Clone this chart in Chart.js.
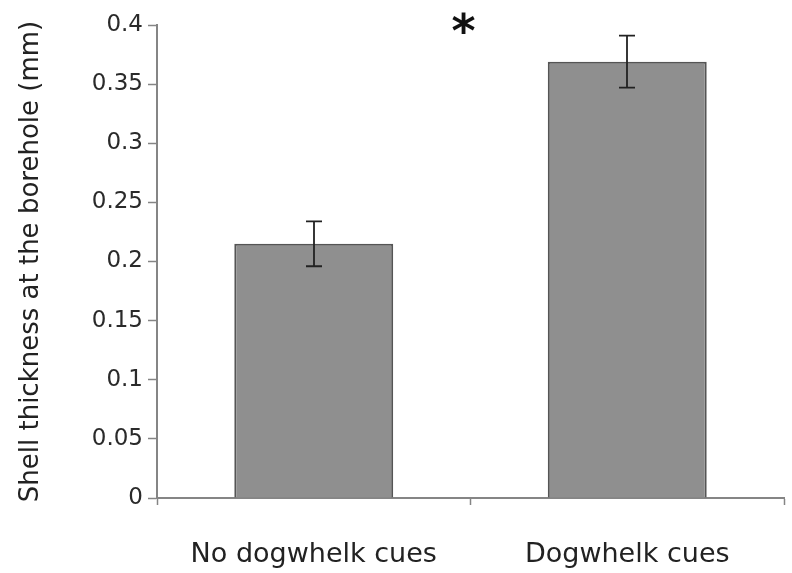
<!DOCTYPE html>
<html>
<head>
<meta charset="utf-8">
<script src="https://cdn.jsdelivr.net/npm/chart.js@4"></script>
<style>
  html, body { margin: 0; padding: 0; background: #fff; }
  #wrap { width: 792px; height: 573px; }
</style>
</head>
<body>
<div id="wrap"><canvas id="shellChart" width="792" height="573"></canvas></div>
<script>
// treatment groups and mean shell thickness (mm) with standard error
const groups = ["No dogwhelk cues", "Dogwhelk cues"];
const thickness = [0.215, 0.369];
const stdErr = [0.019, 0.022];
const yTicks = [0, 0.05, 0.1, 0.15, 0.2, 0.25, 0.3, 0.35, 0.4];
const sigMark = "*";

const FONT = "'DejaVu Sans', sans-serif";
const AXIS_GREY = "#858585";

// error bars + significance star drawn after the bars
const errorBarPlugin = {
    id: "errorBars",
    afterDatasetsDraw(chart) {
        const ctx = chart.ctx;
        const x = chart.scales.x;
        const y = chart.scales.y;
        const meta = chart.getDatasetMeta(0);

        ctx.save();
        ctx.strokeStyle = "#222";
        ctx.lineWidth = 1.8;

        meta.data.forEach((bar, i) => {
            const cx = Math.round(bar.x);
            const top = y.getPixelForValue(thickness[i] + stdErr[i]);
            const bottom = y.getPixelForValue(thickness[i] - stdErr[i]);
            const cap = 8;

            ctx.beginPath();
            ctx.moveTo(cx, top);
            ctx.lineTo(cx, bottom);
            ctx.moveTo(cx - cap, top);
            ctx.lineTo(cx + cap, top);
            ctx.moveTo(cx - cap, bottom);
            ctx.lineTo(cx + cap, bottom);
            ctx.stroke();
        });

        // star between the two groups, level with the top of the axis
        const mid = (x.getPixelForValue(0) + x.getPixelForValue(1)) / 2 - 7;
        ctx.fillStyle = "#111";
        ctx.font = "bold 46px " + FONT;
        ctx.textAlign = "center";
        ctx.textBaseline = "middle";
        ctx.fillText(sigMark, mid, y.getPixelForValue(yTicks[yTicks.length - 1]) + 10);
        ctx.restore();
    }
};

new Chart(document.getElementById("shellChart"), {

    type: "bar",

    data: {
        labels: groups,
        datasets: [{
            data: thickness,
            backgroundColor: "#8f8f8f",
            borderColor: "#555",
            borderWidth: 2,
            borderSkipped: "bottom",
            barPercentage: 0.507,
            categoryPercentage: 1
        }]
    },

    options: {
        responsive: false,
        animation: false,
        layout: {
            padding: { top: 25, right: 8, left: 0, bottom: 0 }
        },
        plugins: {
            legend: { display: false },
            tooltip: { enabled: false }
        },
        scales: {
            x: {
                offset: true,
                border: { color: AXIS_GREY, width: 2 },
                grid: {
                    offset: true,
                    drawOnChartArea: false,
                    tickLength: 7,
                    tickColor: AXIS_GREY,
                    tickWidth: 1.5
                },
                ticks: {
                    color: "#222",
                    padding: 34,
                    maxRotation: 0,
                    font: { family: FONT, size: 27 }
                },
                afterFit(scale) {
                    scale.height = 75;
                }
            },
            y: {
                min: 0,
                max: 0.4,
                afterBuildTicks(scale) {
                    scale.ticks = yTicks.map(v => ({ value: v }));
                },
                border: { color: AXIS_GREY, width: 2 },
                grid: {
                    drawOnChartArea: false,
                    tickLength: 9,
                    tickColor: AXIS_GREY,
                    tickWidth: 1.5
                },
                ticks: {
                    color: "#2a2a2a",
                    padding: 5,
                    font: { family: FONT, size: 23 },
                    callback: v => String(+v.toFixed(2))
                },
                title: {
                    display: true,
                    text: "Shell thickness at the borehole (mm)",
                    color: "#222",
                    padding: { top: 16, bottom: 0 },
                    font: { family: FONT, size: 26 }
                },
                afterFit(scale) {
                    scale.width = 157;
                }
            }
        }
    },

    plugins: [errorBarPlugin]

});
</script>
</body>
</html>
